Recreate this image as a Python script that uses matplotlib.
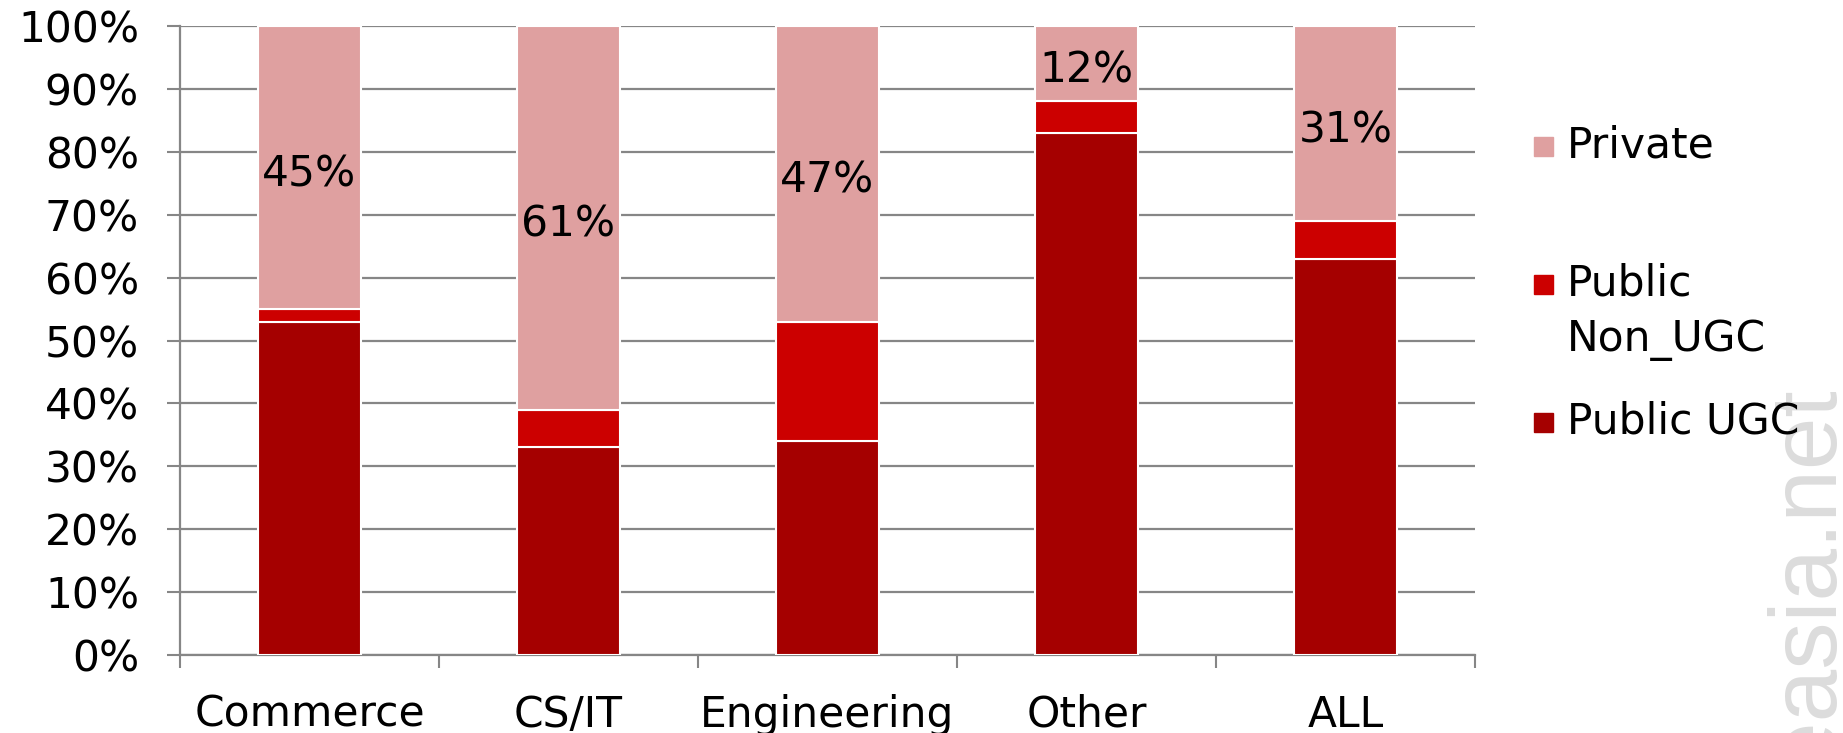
import matplotlib
matplotlib.use('Agg')
import matplotlib.pyplot as plt
from matplotlib.patches import Rectangle
import numpy as np

categories = ['Commerce', 'CS/IT', 'Engineering', 'Other', 'ALL']
public_ugc = [53, 33, 34, 83, 63]
public_non_ugc = [2, 6, 19, 5, 6]
private = [45, 61, 47, 12, 31]
series_names = ['Private', 'Public\nNon_UGC', 'Public UGC']

c_private = '#DFA0A0'
c_non_ugc = '#CC0000'
c_ugc = '#A50000'
grid_c = '#868686'
fs = 30.5

fig = plt.figure(figsize=(18.43, 7.33), dpi=100)
ax = fig.add_axes([180 / 1843, 1 - 655 / 733, 1295 / 1843, 629 / 733])

x = np.arange(len(categories))
w = 0.394
ugc = np.array(public_ugc)
non = np.array(public_non_ugc)
prv = np.array(private)

ax.bar(x, ugc, w, color=c_ugc, edgecolor='white', linewidth=1.5, zorder=3)
ax.bar(x, non, w, bottom=ugc, color=c_non_ugc, edgecolor='white', linewidth=1.5, zorder=3)
ax.bar(x, prv, w, bottom=ugc + non, color=c_private, edgecolor='white', linewidth=1.5, zorder=3)

# value labels, sitting a little below the segment centre like the original
for i in range(len(x)):
    ax.annotate(f'{prv[i]}%', (x[i], ugc[i] + non[i] + prv[i] / 2),
                xytext=(0, -5), textcoords='offset points', ha='center', va='center',
                fontsize=fs, color='black', zorder=4)

ax.set_xlim(-0.5, len(categories) - 0.5)
ax.set_ylim(0, 100)
ax.set_yticks(np.arange(0, 101, 10))
ax.set_yticklabels([f'{v}%' for v in range(0, 101, 10)], fontsize=fs)
ax.yaxis.grid(True, color=grid_c, linewidth=1.6, zorder=0)
ax.set_axisbelow(True)

ax.set_xticks(np.arange(-0.5, len(categories), 1.0))
ax.set_xticklabels([])
ax.set_xticks(x, minor=True)
ax.set_xticklabels(categories, minor=True, fontsize=fs)
ax.tick_params(axis='x', which='minor', length=0, pad=28)
ax.tick_params(axis='x', which='major', length=9.5, width=1.5, color=grid_c, direction='out')
ax.tick_params(axis='y', length=9.5, width=1.5, color=grid_c, direction='out', pad=20)

for s in ['top', 'right']:
    ax.spines[s].set_visible(False)
for s in ['left', 'bottom']:
    ax.spines[s].set_color(grid_c)
    ax.spines[s].set_linewidth(1.6)

# legend drawn by hand so the square sits on the first text line
leg_colors = [c_private, c_non_ugc, c_ugc]
leg_y = [146, 284, 422]
for name, col, yy in zip(series_names, leg_colors, leg_y):
    yf = 1 - yy / 733
    fig.patches.append(Rectangle((1534 / 1843, yf - 10 / 733), 19 / 1843, 19 / 733,
                                 transform=fig.transFigure, color=col, zorder=5))
    lines = name.split('\n')
    for k, ln in enumerate(lines):
        fig.text(1567 / 1843, 1 - (yy + k * 56) / 733, ln, fontsize=fs, ha='left',
                 va='center', zorder=6)

fig.text(1808 / 1843, 1 - 386 / 733, 'easia.net', rotation=90, ha='center', va='top',
         fontsize=68, color='#dcdcdc', family='Liberation Sans', zorder=1)

fig.savefig('out.png', dpi=100)
